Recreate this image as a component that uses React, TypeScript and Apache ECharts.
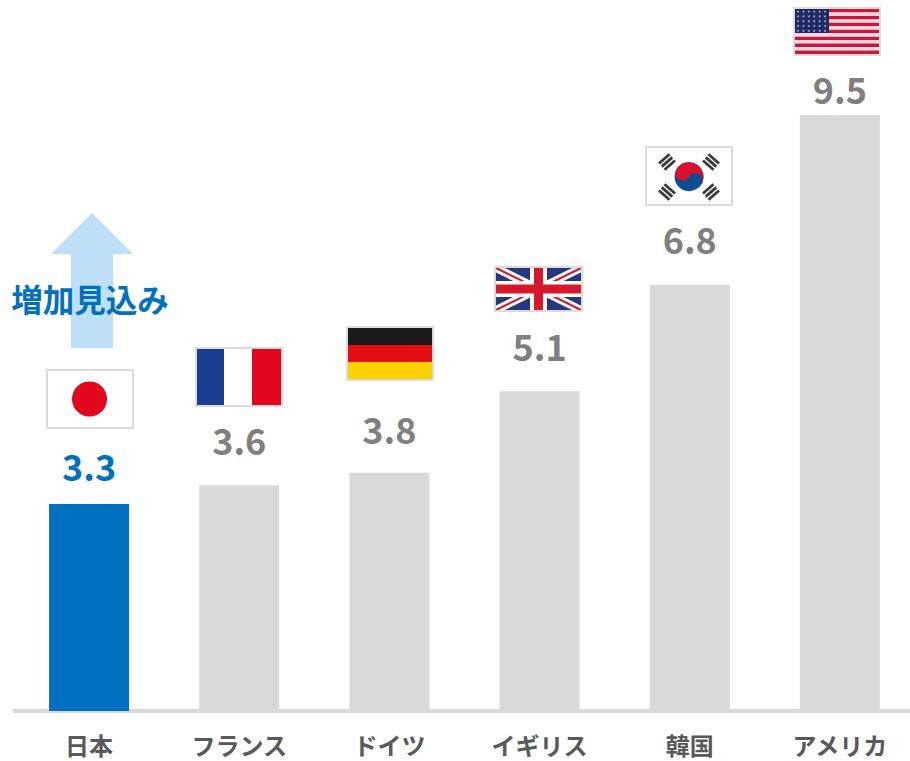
import React, { useEffect, useRef } from "react";
import * as echarts from "echarts";

const categories = ["日本", "フランス", "ドイツ", "イギリス", "韓国", "アメリカ"];
const values = [3.3, 3.6, 3.8, 5.1, 6.8, 9.5];
const highlighted = "日本";
const annotationText = "増加見込み";

const FONT = '"Noto Sans CJK JP", "Noto Sans", sans-serif';
const labelGaps = [21, 28, 27, 28, 29, 9];
const PLOT_H = 711;
const UNIT = 62.7;

type El = any;
const rect = (x: number, y: number, w: number, h: number, fill: string): El => ({
  type: "rect",
  shape: { x, y, width: w, height: h },
  style: { fill },
  silent: true,
});
const line = (x1: number, y1: number, x2: number, y2: number, stroke: string, lineWidth: number): El => ({
  type: "line",
  shape: { x1, y1, x2, y2 },
  style: { stroke, lineWidth },
  silent: true,
});
const flag = (x: number, y: number, w: number, h: number, children: El[]): El => ({
  type: "group",
  x,
  y,
  children: [
    rect(0, 0, w, h, "#ffffff"),
    ...children,
    {
      type: "rect",
      shape: { x: 1, y: 1, width: w - 2, height: h - 2 },
      style: { fill: "none", stroke: "#dcdcdc", lineWidth: 2 },
      silent: true,
    },
  ],
});

const RED = "#e2071c";

const japan = flag(46, 369, 88, 60, [
  { type: "circle", shape: { cx: 43.5, cy: 30, r: 17.5 }, style: { fill: RED }, silent: true },
]);
const france = flag(195, 347, 88, 60, [
  rect(2, 2, 27, 56, "#1a3e8f"),
  rect(57, 2, 29, 56, RED),
]);
const germany = flag(346, 326, 88, 55, [
  rect(2, 2, 84, 17, "#1a1a1a"),
  rect(2, 19, 84, 17, "#e30f13"),
  rect(2, 36, 84, 17, "#fbd200"),
]);
const uk = flag(494, 266, 89, 46, [
  rect(2, 2, 85, 42, "#26377d"),
  line(2, 2, 87, 44, "#ffffff", 8),
  line(87, 2, 2, 44, "#ffffff", 8),
  line(2, 2, 87, 44, "#d7182a", 2),
  line(87, 2, 2, 44, "#d7182a", 2),
  rect(36, 2, 17, 42, "#ffffff"),
  rect(2, 15, 85, 16, "#ffffff"),
  rect(40, 2, 9, 42, "#d7182a"),
  rect(2, 18.5, 85, 9, "#d7182a"),
]);

const trigram = (x: number, y: number, rotation: number): El => ({
  type: "group",
  x,
  y,
  rotation,
  children: [-4.2, 0, 4.2].map((d) => rect(-7, d - 1.4, 14, 2.8, "#3a3a3a")),
});
const korea = flag(645, 146, 88, 60, [
  trigram(22, 16, 0.72),
  trigram(66, 16, -0.72),
  trigram(22, 46, -0.72),
  trigram(66, 46, 0.72),
  {
    type: "group",
    x: 44,
    y: 30.7,
    rotation: -0.5,
    children: [
      { type: "circle", shape: { cx: 0, cy: 0, r: 14.5 }, style: { fill: "#0f4c8f" }, silent: true },
      {
        type: "sector",
        shape: { cx: 0, cy: 0, r: 14.5, r0: 0, startAngle: Math.PI, endAngle: 2 * Math.PI },
        style: { fill: "#d9112f" },
        silent: true,
      },
      { type: "circle", shape: { cx: -7.25, cy: 0, r: 7.25 }, style: { fill: "#d9112f" }, silent: true },
      { type: "circle", shape: { cx: 7.25, cy: 0, r: 7.25 }, style: { fill: "#0f4c8f" }, silent: true },
    ],
  },
]);

const usStripes: El[] = [];
for (let i = 0; i < 13; i++) {
  usStripes.push(rect(2, 2 + (i * 45) / 13, 84, 45 / 13, i % 2 === 0 ? "#c9163f" : "#f8d9e0"));
}
const usStars: El[] = [];
for (let r = 0; r < 5; r++) {
  for (let c = 0; c < 6; c++) {
    usStars.push({
      type: "circle",
      shape: { cx: 5 + c * 5.4, cy: 4.6 + r * 4.8, r: 1 },
      style: { fill: "#9aa3c4" },
      silent: true,
    });
  }
}
const usa = flag(793, 7, 88, 49, [...usStripes, rect(2, 2, 34, 24, "#1f2a63"), ...usStars]);

const arrow: El = {
  type: "polygon",
  shape: {
    points: [
      [92, 213],
      [133, 254],
      [113, 254],
      [113, 348],
      [71, 348],
      [71, 254],
      [51, 254],
    ],
  },
  style: { fill: "#bde0f8" },
  silent: true,
};
const annotation: El = {
  type: "text",
  x: 90,
  y: 298,
  style: {
    text: annotationText,
    fill: "#0070c0",
    font: `bold 31.5px ${FONT}`,
    align: "center",
    verticalAlign: "middle",
  },
  silent: true,
};

export default function App() {
  const ref = useRef<HTMLDivElement>(null);
  useEffect(() => {
    if (!ref.current) return;
    const chart = echarts.init(ref.current, undefined, { renderer: "svg" });
    chart.setOption({
      animation: false,
      backgroundColor: "#ffffff",
      grid: { left: 14, top: 0, width: 901, height: PLOT_H, containLabel: false },
      xAxis: {
        type: "category",
        data: categories,
        axisTick: { show: false },
        axisLine: { lineStyle: { color: "#d9d9d9", width: 4 } },
        axisLabel: {
          color: "#595959",
          fontFamily: FONT,
          fontWeight: "bold",
          fontSize: 24,
          margin: 21,
          interval: 0,
        },
      },
      yAxis: { type: "value", min: 0, max: PLOT_H / UNIT, show: false, splitLine: { show: false } },
      series: [
        {
          type: "bar",
          barWidth: 80,
          z: 1,
          data: values.map((v, i) => {
            const hot = categories[i] === highlighted;
            return {
              value: v,
              itemStyle: { color: hot ? "#0070c0" : "#d9d9d9" },
              label: {
                show: true,
                position: "top",
                distance: labelGaps[i],
                color: hot ? "#0070c0" : "#7f7f7f",
                fontFamily: FONT,
                fontWeight: "bold",
                fontSize: 36,
                formatter: v.toFixed(1),
              },
            };
          }),
        },
      ],
      graphic: { elements: [arrow, annotation, japan, france, germany, uk, korea, usa] },
    });
    return () => chart.dispose();
  }, []);
  return (
    <div style={{ position: "fixed", left: 0, top: 0, width: 910, height: 761, overflow: "hidden", background: "#fff" }}>
      <div ref={ref} style={{ width: 915, height: 761 }} />
    </div>
  );
}
